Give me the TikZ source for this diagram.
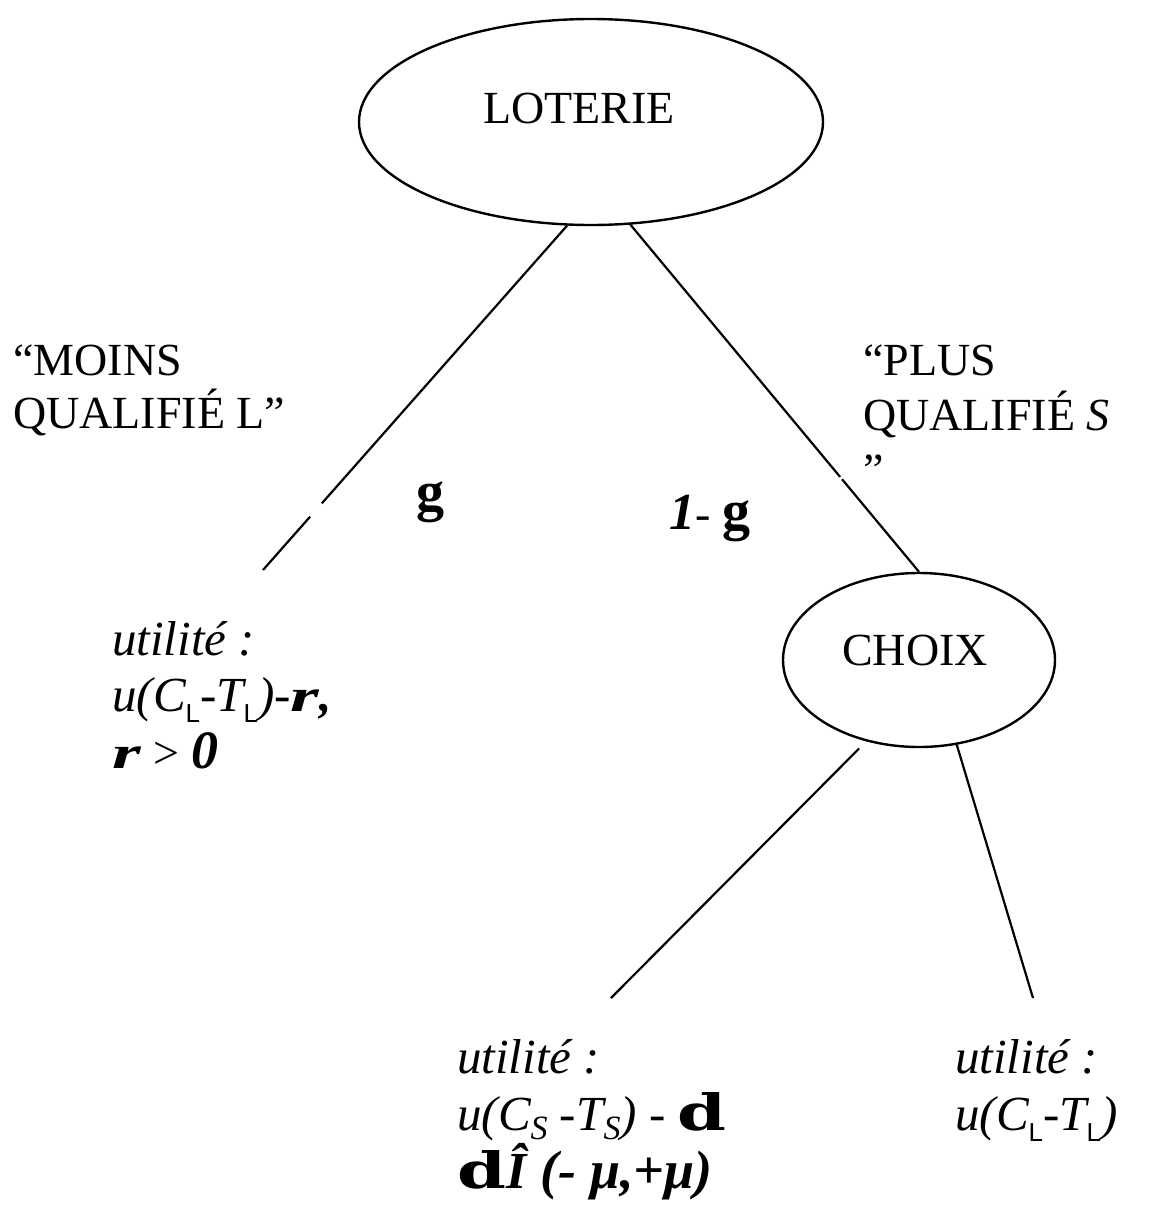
\documentclass[tikz,border=0pt]{standalone}
\usepackage{fontspec}
\setmainfont{Liberation Serif}
\newfontfamily\sansL{Liberation Sans}
\newfontfamily\dvserif{DejaVu Serif}
\usetikzlibrary{shapes.geometric}
\newcommand\sbL{\raisebox{-11pt}{\fontsize{26}{26}\sansL\upshape\mdseries L}}
\newcommand\sbS{\raisebox{-9pt}{\fontsize{34}{34}\selectfont\itshape S}}
\newcommand\bi[1]{\textbf{\textit{#1}}}
\newcommand\dglyph{\scalebox{1.4}[1]{\fontsize{50}{50}\dvserif\bfseries\upshape d}}
\newcommand\rglyph{\scalebox{1.6}[1]{\fontsize{46}{46}\selectfont\bfseries\itshape r}}
\newcommand\gglyph{{\fontsize{56}{56}\selectfont\bfseries\upshape g}}
\begin{document}
\begin{tikzpicture}[x=1pt,y=-1pt,
  txt/.style={inner sep=0pt, anchor=base west, align=left},
  oval/.style={draw, ellipse, line width=2.4pt, inner sep=0pt},
  branch/.style={line width=2.2pt}]
\useasboundingbox (0,0) rectangle (1149,1205);
% nodes
\node[oval, minimum width=464pt, minimum height=206pt] (lot) at (591,122) {};
\node[inner sep=0pt, anchor=base, font=\fontsize{46}{55}\selectfont] (lottxt) at (579,123) {LOTERIE};
\node[oval, minimum width=272pt, minimum height=174pt] (cho) at (919,660) {};
\node[inner sep=0pt, anchor=base, font=\fontsize{46}{55}\selectfont] (chotxt) at (915,665) {CHOIX};
% labels (anchored at the baseline of their last line)
\node[txt, font={\fontsize{46}{53}\selectfont\lineskiplimit=-100pt}] (moins) at (13,428) {``MOINS\\QUALIFIÉ L''};
\node[txt, font={\fontsize{46}{55}\selectfont\lineskiplimit=-100pt}] (plus) at (863,485) {``PLUS\\QUALIFIÉ \textit{S}\\''};
\node[txt] (g1) at (416,510) {\gglyph};
\node[txt, font=\fontsize{46}{55}\selectfont] (g2) at (669,529) {{\fontsize{52}{52}\selectfont\bi{1}}- \gglyph};
% utilities
\node[txt, font={\fontsize{49}{56.5}\selectfont\lineskiplimit=-100pt}] (uL) at (112,768)
  {\textit{utilité :}\\\textit{u(C\sbL-T\sbL)-}\rglyph\bi{,}\\\rglyph\ {\fontsize{46}{46}\selectfont >} {\fontsize{54}{54}\selectfont\bi{0}}};
\node[txt, font={\fontsize{49}{57.5}\selectfont\lineskiplimit=-100pt}] (uS) at (457,1188)
  {\textit{utilité :}\\\textit{u(C\sbS\ -T\sbS) - }\dglyph\\\dglyph{\fontsize{52}{52}\selectfont\bi{Î}} {\fontsize{54}{54}\selectfont\bi{(- μ,+μ)}}};
\node[txt, font={\fontsize{49}{57}\selectfont\lineskiplimit=-100pt}] (uR) at (955,1130)
  {\textit{utilité :}\\\textit{u(C\sbL-T\sbL)}};
% free ends
\coordinate (endL) at (263,570);
\coordinate (endS) at (611,998);
\coordinate (endR) at (1033,998);
% connectors
\draw[branch, dash pattern=on 370.5pt off 17.8pt on 200pt] (lot.257.4) -- (endL);
\draw[branch, dash pattern=on 328pt off 3pt on 200pt] (lot.291.7) -- (cho.north);
\draw[branch, shorten <=10pt] (cho.237.4) -- (endS);
\draw[branch] (cho.294.5) -- (endR);
\end{tikzpicture}
\end{document}
